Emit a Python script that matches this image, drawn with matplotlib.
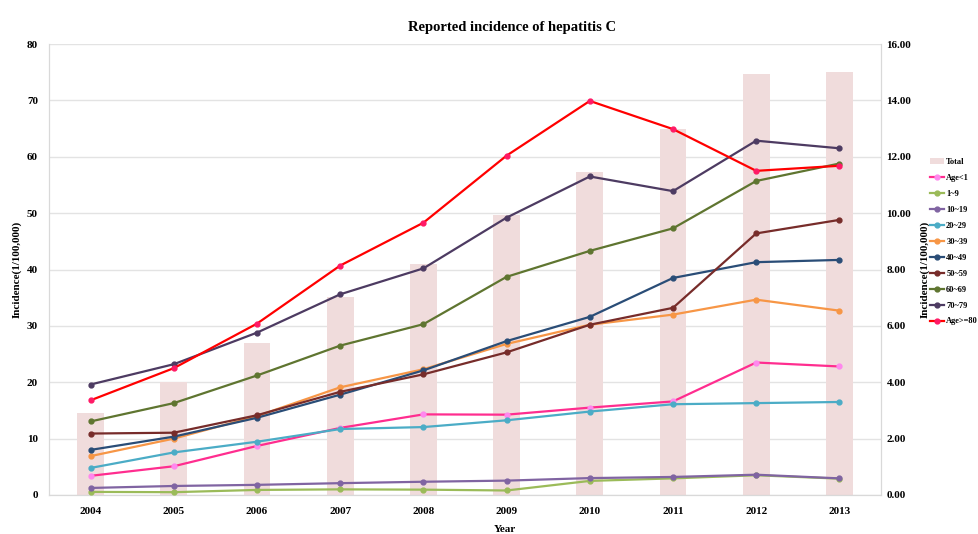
import numpy as np
import matplotlib
matplotlib.use("Agg")
import matplotlib.pyplot as plt

plt.rcParams['font.family'] = ['Liberation Serif', 'DejaVu Serif']
plt.rcParams['font.weight'] = 'bold'

years = ['2004', '2005', '2006', '2007', '2008', '2009', '2010', '2011', '2012', '2013']

# Total (right axis, bars)
total = [2.91, 4.02, 5.40, 7.02, 8.20, 9.93, 11.46, 12.97, 14.95, 15.0]

# age groups (left axis)
age_lt1 = [3.4, 5.1, 8.7, 11.9, 14.3, 14.25, 15.5, 16.6, 23.5, 22.8]
age_1_9 = [0.55, 0.5, 0.9, 1.0, 0.95, 0.8, 2.5, 2.95, 3.5, 2.9]
age_10_19 = [1.25, 1.6, 1.8, 2.1, 2.35, 2.55, 3.0, 3.2, 3.6, 2.95]
age_20_29 = [4.8, 7.55, 9.45, 11.7, 12.05, 13.25, 14.8, 16.1, 16.3, 16.5]
age_30_39 = [6.9, 10.0, 14.0, 19.1, 22.3, 26.8, 30.2, 32.0, 34.65, 32.7]
age_40_49 = [8.0, 10.35, 13.7, 17.8, 22.1, 27.3, 31.6, 38.5, 41.3, 41.7]
age_50_59 = [10.9, 11.05, 14.15, 18.3, 21.4, 25.3, 30.2, 33.2, 46.4, 48.8]
age_60_69 = [13.05, 16.3, 21.2, 26.5, 30.3, 38.7, 43.3, 47.3, 55.7, 58.8]
age_70_79 = [19.6, 23.2, 28.8, 35.6, 40.2, 49.2, 56.5, 53.9, 62.85, 61.5]
age_ge80 = [16.8, 22.5, 30.4, 40.7, 48.3, 60.2, 69.9, 64.9, 57.5, 58.4]

series = [
    ('Age<1', age_lt1, '#ff2d8f', '#ff88ee'),
    ('1~9', age_1_9, '#9bbb59', '#9bbb59'),
    ('10~19', age_10_19, '#8064a2', '#8064a2'),
    ('20~29', age_20_29, '#4bacc6', '#4bacc6'),
    ('30~39', age_30_39, '#f79646', '#f79646'),
    ('40~49', age_40_49, '#2a4d77', '#2a4d77'),
    ('50~59', age_50_59, '#772c2a', '#772c2a'),
    ('60~69', age_60_69, '#5f7530', '#5f7530'),
    ('70~79', age_70_79, '#4d3b62', '#4d3b62'),
    ('Age>=80', age_ge80, '#ff0000', '#ff1a66'),
]

fig = plt.figure(figsize=(9.79, 5.34), dpi=100)
ax = fig.add_axes([49 / 979, 1 - 495 / 534, 832 / 979, 451 / 534])
ax2 = ax.twinx()
ax.set_zorder(ax2.get_zorder() + 1)
ax.patch.set_visible(False)

x = np.arange(len(years))
bars = ax2.bar(x, total, width=0.32, color='#f0dcdc', label='Total', zorder=2)
ax2.set_ylim(0, 16)
ax2.set_yticks(np.arange(0, 16.01, 2))
ax2.set_yticklabels([f'{v:.2f}' for v in np.arange(0, 16.01, 2)])

handles = [bars]
for name, vals, col, mcol in series:
    h, = ax.plot(x, vals, color=col, lw=1.6, marker='o', ms=3.5,
                 mfc=mcol, mec=mcol, label=name, zorder=3)
    handles.append(h)

ax.set_ylim(0, 80)
ax.set_yticks(np.arange(0, 81, 10))
ax.set_xlim(-0.5, len(years) - 0.5)
ax.set_xticks(x)
ax.set_xticklabels(years)

# grid lines on the right-axis axes so they sit under bars
for v in np.arange(0, 16.01, 2):
    ax2.axhline(v, color='#e3e3e3', lw=1, zorder=1)

for a in (ax, ax2):
    a.spines['top'].set_visible(False)
    for side in ('left', 'right', 'bottom'):
        a.spines[side].set_color('#d9d9d9')
    a.tick_params(length=0, labelsize=8)
ax.tick_params(axis='x', pad=9)
ax.tick_params(axis='y', pad=8)
ax2.tick_params(axis='y', pad=4)

ax.set_ylabel('Incidence(1/100,000)', fontsize=8, fontweight='bold')
ax.yaxis.set_label_coords(-27 / 832, 0.5)
ax2.set_ylabel('Incidence(1/100,000)', fontsize=8, fontweight='bold')
ax2.yaxis.set_label_coords(1 + 39 / 832, 0.5)
ax.set_xlabel('Year', fontsize=8, fontweight='bold')
ax.xaxis.set_label_coords(0.548, -0.066)

fig.text(512 / 979, 1 - 27 / 534, 'Reported incidence of hepatitis C',
         ha='center', va='center', fontsize=10.5, fontweight='bold')

fig.legend(handles=handles, loc='upper left', bbox_to_anchor=(927 / 979, 1 - 155 / 534),
           frameon=False, fontsize=6, handlelength=1.6, labelspacing=0.95,
           handletextpad=0.3, borderaxespad=0)

fig.savefig('out.png', dpi=100)
